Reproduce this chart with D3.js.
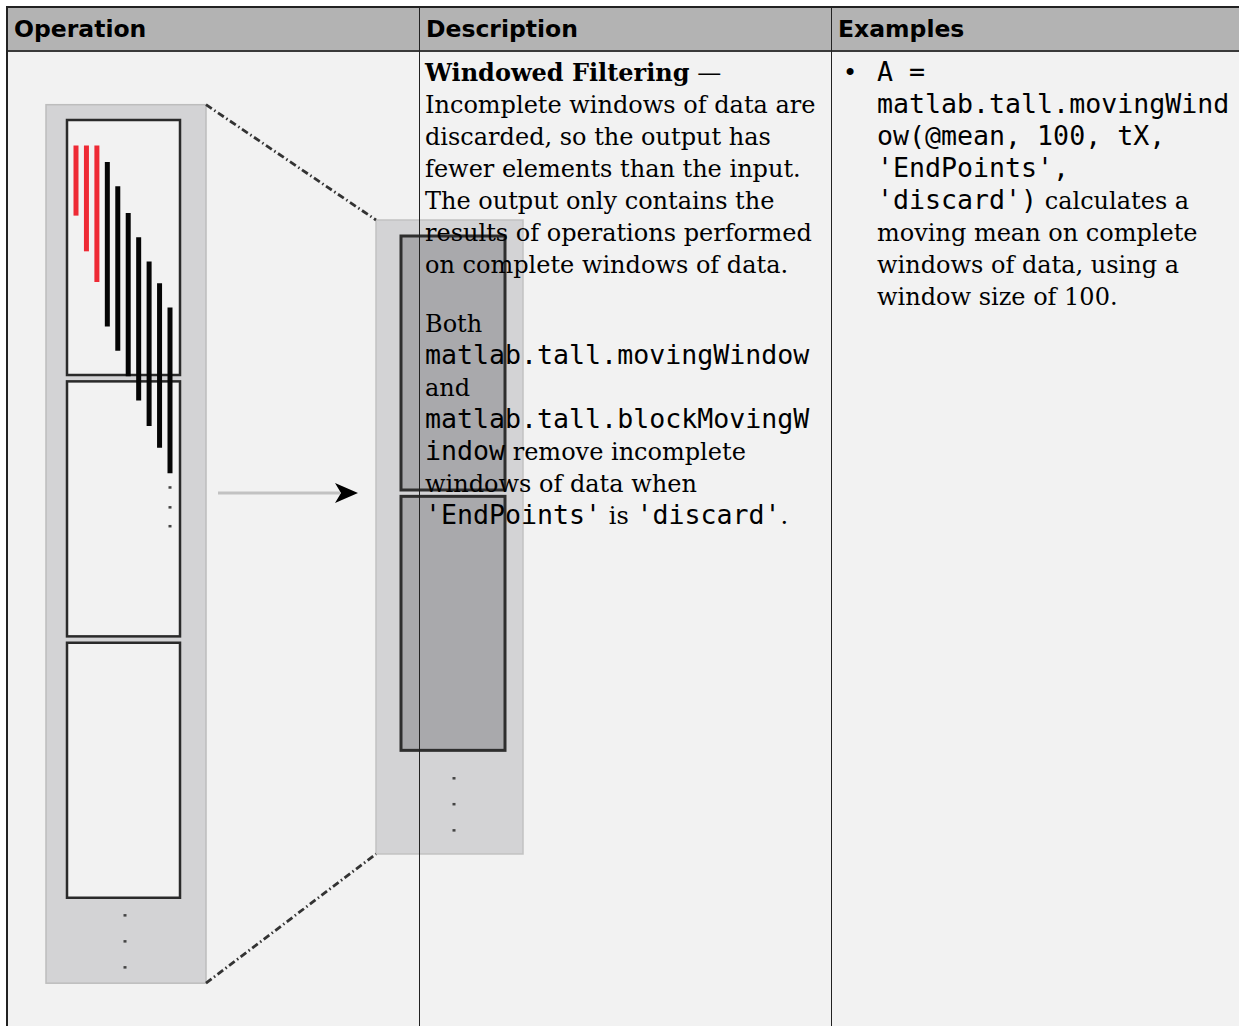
<!DOCTYPE html>
<html>
<head>
<meta charset="utf-8">
<script src="https://cdn.jsdelivr.net/npm/d3@7"></script>
<style>
  html, body { margin: 0; padding: 0; background: #ffffff; }
  svg { display: block; }
  .hdr { font-family: "DejaVu Sans", sans-serif; font-weight: bold; font-size: 23.5px; fill: #000; }
  .serif { font-family: "DejaVu Serif", serif; font-size: 24px; }
  .bold { font-family: "DejaVu Serif", serif; font-weight: bold; font-size: 24px; }
  .mono { font-family: "DejaVu Sans Mono", monospace; font-size: 26.6px; }
</style>
</head>
<body>
<div id="chart"></div>
<script>
// ---- table content -------------------------------------------------------
var headers = ['Operation', 'Description', 'Examples'];

// description column, one entry per wrapped line, segments: [style, text]
var descPara1 = [
  [['bold', 'Windowed Filtering'], ['serif', ' \u2014']],
  [['serif', 'Incomplete windows of data are']],
  [['serif', 'discarded, so the output has']],
  [['serif', 'fewer elements than the input.']],
  [['serif', 'The output only contains the']],
  [['serif', 'results of operations performed']],
  [['serif', 'on complete windows of data.']]
];
var descPara2 = [
  [['serif', 'Both']],
  [['mono', 'matlab.tall.movingWindow']],
  [['serif', 'and']],
  [['mono', 'matlab.tall.blockMovingW']],
  [['mono', 'indow'], ['serif', ' remove incomplete']],
  [['serif', 'windows of data when']],
  [['mono', "'EndPoints'"], ['serif', ' is '], ['mono', "'discard'"], ['serif', '.']]
];
var exampleLines = [
  [['mono', 'A =']],
  [['mono', 'matlab.tall.movingWind']],
  [['mono', 'ow(@mean, 100, tX,']],
  [['mono', "'EndPoints',"]],
  [['mono', "'discard')"], ['serif', ' calculates a']],
  [['serif', 'moving mean on complete']],
  [['serif', 'windows of data, using a']],
  [['serif', 'window size of 100.']]
];

// ---- diagram data (element index units, 1000 elements per chunk) ----------
var chunkStarts = [0, 1025, 2050];
var chunkSize = 1000;
var inputFrame = [-60, 3385];
var outputChunks = [0, 1025];
var outputFrame = [-63, 2433];

// windows: start / end element index; first three are incomplete
var windowStart = [100, 100, 100, 165, 260, 365, 460, 555, 640, 735];
var windowEnd = [375, 515, 635, 810, 905, 1005, 1100, 1200, 1285, 1385];
var windowComplete = [false, false, false, true, true, true, true, true, true, true];

var dotsInChunk = [1440, 1518, 1592];
var dotsInFrame = [3118, 3220, 3322];
var dotsOutFrame = [2134, 2236, 2339];

// ---------------------------------------------------------------------------
var width = 1239, height = 1026;
var svg = d3.select('#chart').append('svg')
  .attr('width', width)
  .attr('height', height);

var colX = [7, 419, 831, width + 2];
var topY = 7, headY = 51, lineH = 32;

svg.append('rect')
  .attr('x', colX[0]).attr('y', headY)
  .attr('width', width - colX[0]).attr('height', height - headY)
  .attr('fill', '#f2f2f2');
svg.append('rect')
  .attr('x', colX[0]).attr('y', topY)
  .attr('width', width - colX[0]).attr('height', headY - topY)
  .attr('fill', '#b3b3b3');

// ---- diagram ----
var yIn = d3.scaleLinear().domain([0, chunkSize]).range([120, 375]);
var yOut = d3.scaleLinear().domain([0, chunkSize]).range([236, 490]);
var xBar = d3.scaleLinear().domain([0, windowStart.length - 1]).range([76, 170]);

var inX = [46, 206], chunkX = [67, 180];
var outX = [376, 523], outChunkX = [401, 505];

var diag = svg.append('g').attr('class', 'diagram');

diag.append('rect')
  .attr('x', inX[0]).attr('y', yIn(inputFrame[0]))
  .attr('width', inX[1] - inX[0])
  .attr('height', yIn(inputFrame[1]) - yIn(inputFrame[0]))
  .attr('fill', '#d3d3d5').attr('stroke', '#bdbdbd').attr('stroke-width', 1.5);

diag.selectAll('rect.chunk')
  .data(chunkStarts)
  .enter().append('rect')
  .attr('class', 'chunk')
  .attr('x', chunkX[0]).attr('y', function(d) { return yIn(d); })
  .attr('width', chunkX[1] - chunkX[0])
  .attr('height', function(d) { return yIn(d + chunkSize) - yIn(d); })
  .attr('fill', '#f2f2f2').attr('stroke', '#2a2a2a').attr('stroke-width', 2.5);

diag.selectAll('line.window')
  .data(windowStart)
  .enter().append('line')
  .attr('class', 'window')
  .attr('x1', function(d, i) { return xBar(i); })
  .attr('x2', function(d, i) { return xBar(i); })
  .attr('y1', function(d) { return yIn(d); })
  .attr('y2', function(d, i) { return yIn(windowEnd[i]); })
  .attr('stroke', function(d, i) { return windowComplete[i] ? '#050505' : '#ee2a35'; })
  .attr('stroke-width', 5);

function dots(g, values, x, scale) {
  g.selectAll(null)
    .data(values)
    .enter().append('rect')
    .attr('x', x - 1.5).attr('y', function(d) { return scale(d) - 1; })
    .attr('width', 3).attr('height', 2.5)
    .attr('fill', '#444');
}
dots(diag, dotsInChunk, xBar(windowStart.length - 1), yIn);
dots(diag, dotsInFrame, 125, yIn);

// output column
diag.append('rect')
  .attr('x', outX[0]).attr('y', yOut(outputFrame[0]))
  .attr('width', outX[1] - outX[0])
  .attr('height', yOut(outputFrame[1]) - yOut(outputFrame[0]))
  .attr('fill', '#d3d3d5').attr('stroke', '#c2c2c2').attr('stroke-width', 1.5);

diag.selectAll('rect.outchunk')
  .data(outputChunks)
  .enter().append('rect')
  .attr('class', 'outchunk')
  .attr('x', outChunkX[0]).attr('y', function(d) { return yOut(d); })
  .attr('width', outChunkX[1] - outChunkX[0])
  .attr('height', function(d) { return yOut(d + chunkSize) - yOut(d); })
  .attr('fill', '#a9a9ac').attr('stroke', '#2e2e2e').attr('stroke-width', 3);

dots(diag, dotsOutFrame, 454, yOut);

// zoom connectors
var connectors = [
  [inX[1], yIn(inputFrame[0]), outX[0], yOut(outputFrame[0])],
  [inX[1], yIn(inputFrame[1]), outX[0], yOut(outputFrame[1])]
];
diag.selectAll('line.conn')
  .data(connectors)
  .enter().append('line')
  .attr('class', 'conn')
  .attr('x1', function(d) { return d[0]; }).attr('y1', function(d) { return d[1]; })
  .attr('x2', function(d) { return d[2]; }).attr('y2', function(d) { return d[3]; })
  .attr('stroke', '#333').attr('stroke-width', 2.8)
  .attr('stroke-dasharray', '7,3,1.5,3');

// arrow
var arrowY = 493;
diag.append('line')
  .attr('x1', 218).attr('y1', arrowY).attr('x2', 340).attr('y2', arrowY)
  .attr('stroke', '#c2c2c2').attr('stroke-width', 3);
diag.append('path')
  .attr('d', 'M358,' + arrowY + ' L335,' + (arrowY - 10) + ' L341,' + arrowY +
    ' L335,' + (arrowY + 10) + ' Z')
  .attr('fill', '#000');

// ---- grid lines ----
var grid = svg.append('g').attr('class', 'grid');
grid.append('line')
  .attr('x1', colX[0]).attr('x2', width).attr('y1', topY).attr('y2', topY)
  .attr('stroke', '#222').attr('stroke-width', 2);
grid.append('line')
  .attr('x1', colX[0]).attr('x2', width).attr('y1', headY).attr('y2', headY)
  .attr('stroke', '#3a3a3a').attr('stroke-width', 2);
grid.append('line')
  .attr('x1', colX[0]).attr('x2', colX[0]).attr('y1', topY - 1).attr('y2', height)
  .attr('stroke', '#222').attr('stroke-width', 2);
grid.selectAll('line.col')
  .data([colX[1], colX[2]])
  .enter().append('line')
  .attr('class', 'col')
  .attr('x1', function(d) { return d + 0.5; }).attr('x2', function(d) { return d + 0.5; })
  .attr('y1', topY).attr('y2', height)
  .attr('stroke', '#222').attr('stroke-width', 1);

// ---- header text ----
svg.selectAll('text.hdr')
  .data(headers)
  .enter().append('text')
  .attr('class', 'hdr')
  .attr('x', function(d, i) { return colX[i] + 7; })
  .attr('y', 37)
  .text(function(d) { return d; });

// ---- body text ----
function writeLines(lines, x, y0) {
  var t = svg.append('g').selectAll('text')
    .data(lines)
    .enter().append('text')
    .attr('x', x)
    .attr('y', function(d, i) { return y0 + i * lineH; })
    .attr('fill', '#000')
    .attr('xml:space', 'preserve')
    .style('white-space', 'pre');
  t.selectAll('tspan')
    .data(function(d) { return d; })
    .enter().append('tspan')
    .attr('class', function(s) { return s[0]; })
    .text(function(s) { return s[1]; });
}

var baseY = 81;
writeLines(descPara1, colX[1] + 6, baseY);
writeLines(descPara2, colX[1] + 6, baseY + descPara1.length * lineH + 27);
writeLines(exampleLines, colX[2] + 46, baseY);

svg.append('text')
  .attr('class', 'serif')
  .attr('x', colX[2] + 12).attr('y', baseY)
  .text('\u2022');
</script>
</body>
</html>
